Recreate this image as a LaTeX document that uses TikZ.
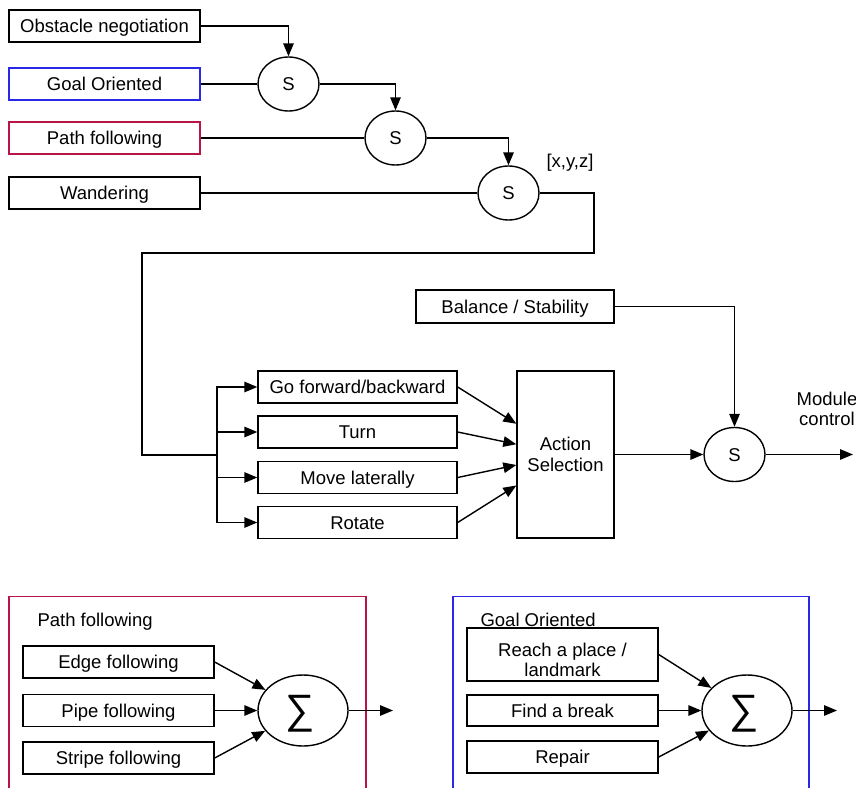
\documentclass[tikz,border=0pt]{standalone}
\usepackage{fontspec}
\setmainfont{Liberation Sans}
\usetikzlibrary{arrows.meta,shapes.geometric,calc}
\definecolor{goalblue}{RGB}{40,40,230}
\definecolor{pathred}{RGB}{185,20,70}
\tikzset{
  every node/.style={font=\fontsize{18.5}{21}\selectfont},
  txt/.style={text height=13.3pt, text depth=0pt},
  box/.style={draw, line width=1.4pt, inner sep=0pt, align=center, txt},
  sbox/.style={draw, ellipse, line width=1.4pt, inner sep=0pt, minimum width=61pt, minimum height=54pt, txt},
  sig/.style={draw, ellipse, line width=1.4pt, inner sep=0pt, minimum width=90pt, minimum height=71pt},
  ln/.style={line width=1.4pt},
  arr/.style={line width=1.4pt, -{Triangle[length=13pt,width=10.5pt]}},
}
\begin{document}
\begin{tikzpicture}[x=1pt,y=-1pt]
\useasboundingbox (0,0) rectangle (856,787);
% top inputs
\node[box, minimum width=191pt, minimum height=32pt] (obs) at (104.5,26) {Obstacle negotiation};
\node[box, draw=goalblue, minimum width=191pt, minimum height=32pt] (goal) at (104.5,84) {Goal Oriented};
\node[box, draw=pathred, minimum width=191pt, minimum height=32pt] (path) at (104.5,138) {Path following};
\node[box, minimum width=191pt, minimum height=32pt] (wand) at (104.5,193) {Wandering};
\node[sbox] (s1) at (288.5,84) {S};
\node[sbox] (s2) at (395.5,138) {S};
\node[sbox] (s3) at (508.5,193) {S};
\node[txt] (xyz) at (570,161) {[x,y,z]};
\draw[arr] (obs.east) -| (s1.north);
\draw[ln] (goal.east) -- (s1.west);
\draw[arr] (s1.east) -| (s2.north);
\draw[ln] (path.east) -- (s2.west);
\draw[arr] (s2.east) -| (s3.north);
\draw[ln] (wand.east) -- (s3.west);
% middle
\coordinate (cA) at (594,253);
\coordinate (cB) at (142,253);
\coordinate (br) at (217,455);
\draw[ln] (s3.east) -| (cA) -- (cB) |- (br);
\node[box, minimum width=199pt, minimum height=32pt] (go) at (357.5,387) {Go forward/backward};
\node[box, minimum width=199pt, minimum height=32pt] (turn) at (357.5,432) {Turn};
\node[box, minimum width=199pt, minimum height=32pt] (lat) at (357.5,477.5) {Move laterally};
\node[box, minimum width=199pt, minimum height=32pt] (rot) at (357.5,522.5) {Rotate};
\draw[arr] (br) |- (go.west);
\draw[arr] (br) |- (turn.west);
\draw[arr] (br) |- (lat.west);
\draw[arr] (br) |- (rot.west);
\node[box, text height=34.3pt, minimum width=97pt, minimum height=167pt] (act) at (565.5,454.5) {Action\\Selection};
\draw[arr] (go.east) -- (act);
\draw[arr] (turn.east) -- (act);
\draw[arr] (lat.east) -- (act);
\draw[arr] (rot.east) -- (act);
\node[box, minimum width=198pt, minimum height=33pt] (bal) at (515,306.5) {Balance / Stability};
\node[sbox] (s4) at (734.5,454.5) {S};
\draw[arr] (bal.east) -| (s4.north);
\draw[arr] (act.east) -- (s4.west);
\coordinate (out) at (853,454.5);
\draw[arr] (s4.east) -- (out);
\node[txt, text height=33.3pt, align=center, font=\fontsize{18.5}{20}\selectfont] (mod) at (827,408.5) {Module\\control};
% bottom left container
\draw[ln, draw=pathred] (9,790) |- (366,596.5) -- (366,790);
\node[txt, anchor=west] (pft) at (34,620) {Path following};
\node[box, minimum width=191pt, minimum height=32pt] (edge) at (118.5,662) {Edge following};
\node[box, minimum width=191pt, minimum height=32pt] (pipe) at (118.5,710.5) {Pipe following};
\node[box, minimum width=191pt, minimum height=32pt] (stripe) at (118.5,758) {Stripe following};
\node[sig] (sig1) at (303,710.5) {};
\node[font=\fontsize{41}{41}\selectfont] (sg1) at (300.5,714) {∑};
\draw[arr] (edge.east) -- (sig1);
\draw[arr] (pipe.east) -- (sig1);
\draw[arr] (stripe.east) -- (sig1);
\coordinate (o1) at (393,710.5);
\draw[arr] (sig1.east) -- (o1);
% bottom right container
\draw[ln, draw=goalblue] (453,790) |- (809,596.5) -- (809,790);
\node[txt, anchor=west] (got) at (477,619.5) {Goal Oriented};
\node[box, minimum width=191pt, minimum height=53pt] (reach) at (562.5,654.5) {};
\node[txt, text height=33.8pt, align=center, font=\fontsize{18.5}{20.5}\selectfont] (reacht) at (562.5,660) {Reach a place /\\landmark};
\node[box, minimum width=191pt, minimum height=31pt] (find) at (562.5,710.5) {Find a break};
\node[box, minimum width=191pt, minimum height=32pt] (rep) at (562.5,757) {Repair};
\node[sig] (sig2) at (747,710.5) {};
\node[font=\fontsize{41}{41}\selectfont] (sg2) at (744.5,714) {∑};
\draw[arr] (reach.east) -- (sig2);
\draw[arr] (find.east) -- (sig2);
\draw[arr] (rep.east) -- (sig2);
\coordinate (o2) at (837,710.5);
\draw[arr] (sig2.east) -- (o2);
\end{tikzpicture}
\end{document}
